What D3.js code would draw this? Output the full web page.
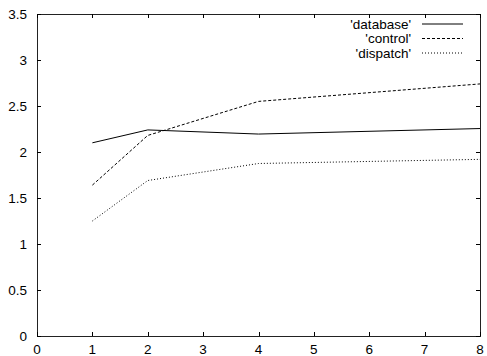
<!DOCTYPE html>
<html><head><meta charset="utf-8">
<script src="https://cdn.jsdelivr.net/npm/d3@7"></script>
<style>body{margin:0;background:#fff}svg{display:block}text{font-family:"Liberation Sans",Arial,sans-serif;font-size:13.5px;fill:#000}</style>
</head><body>
<svg id="c" width="487" height="356"></svg>
<script>
const xValues = [1, 2, 4, 8];
const seriesNames = ["'database'", "'control'", "'dispatch'"];
const database = [2.10, 2.24, 2.195, 2.255];
const control = [1.64, 2.18, 2.55, 2.74];
const dispatch = [1.25, 1.69, 1.875, 1.92];
const xTicks = [0,1,2,3,4,5,6,7,8];
const yTicks = [0,0.5,1,1.5,2,2.5,3,3.5];
const dashes = [null, "3,2", "1,2"];

const svg = d3.select("#c");
const L = 37, R = 480, T = 14, B = 336;
const x = d3.scaleLinear().domain([0,8]).range([L,R]);
const y = d3.scaleLinear().domain([0,3.5]).range([B,T]);

svg.append("rect").attr("x",L+0.5).attr("y",T+0.5).attr("width",R-L).attr("height",B-T)
  .attr("fill","none").attr("stroke","#222").attr("stroke-width",1);

const g = svg.append("g").attr("shape-rendering","crispEdges");
xTicks.forEach(v=>{
  const px = Math.round(x(v))+0.5;
  g.append("line").attr("x1",px).attr("x2",px).attr("y1",B).attr("y2",B-4).attr("stroke","#000");
  g.append("line").attr("x1",px).attr("x2",px).attr("y1",T).attr("y2",T+4).attr("stroke","#000");
  svg.append("text").attr("x",x(v)).attr("y",354).attr("text-anchor","middle").text(v);
});
yTicks.forEach(v=>{
  const py = Math.round(y(v))+0.5;
  g.append("line").attr("x1",L).attr("x2",L+4).attr("y1",py).attr("y2",py).attr("stroke","#000");
  g.append("line").attr("x1",R).attr("x2",R-4).attr("y1",py).attr("y2",py).attr("stroke","#000");
  svg.append("text").attr("x",27).attr("y",y(v)).attr("dy","0.35em").attr("text-anchor","end").text(v);
});

const line = d3.line().x((d,i)=>x(xValues[i])).y(d=>y(d));
const data = [database, control, dispatch];
data.forEach((s,i)=>{
  svg.append("path").datum(s).attr("d",line).attr("fill","none").attr("stroke","#000")
    .attr("stroke-width",1).attr("stroke-dasharray",dashes[i]);
});

const ly = [24, 38.5, 53];
seriesNames.forEach((n,i)=>{
  svg.append("text").attr("x",411).attr("y",ly[i]).attr("dy","0.35em").attr("text-anchor","end").text(n);
  svg.append("line").attr("x1",422).attr("x2",463).attr("y1",ly[i]).attr("y2",ly[i])
    .attr("stroke","#000").attr("stroke-width",1).attr("stroke-dasharray",dashes[i]);
});
</script>
</body></html>
